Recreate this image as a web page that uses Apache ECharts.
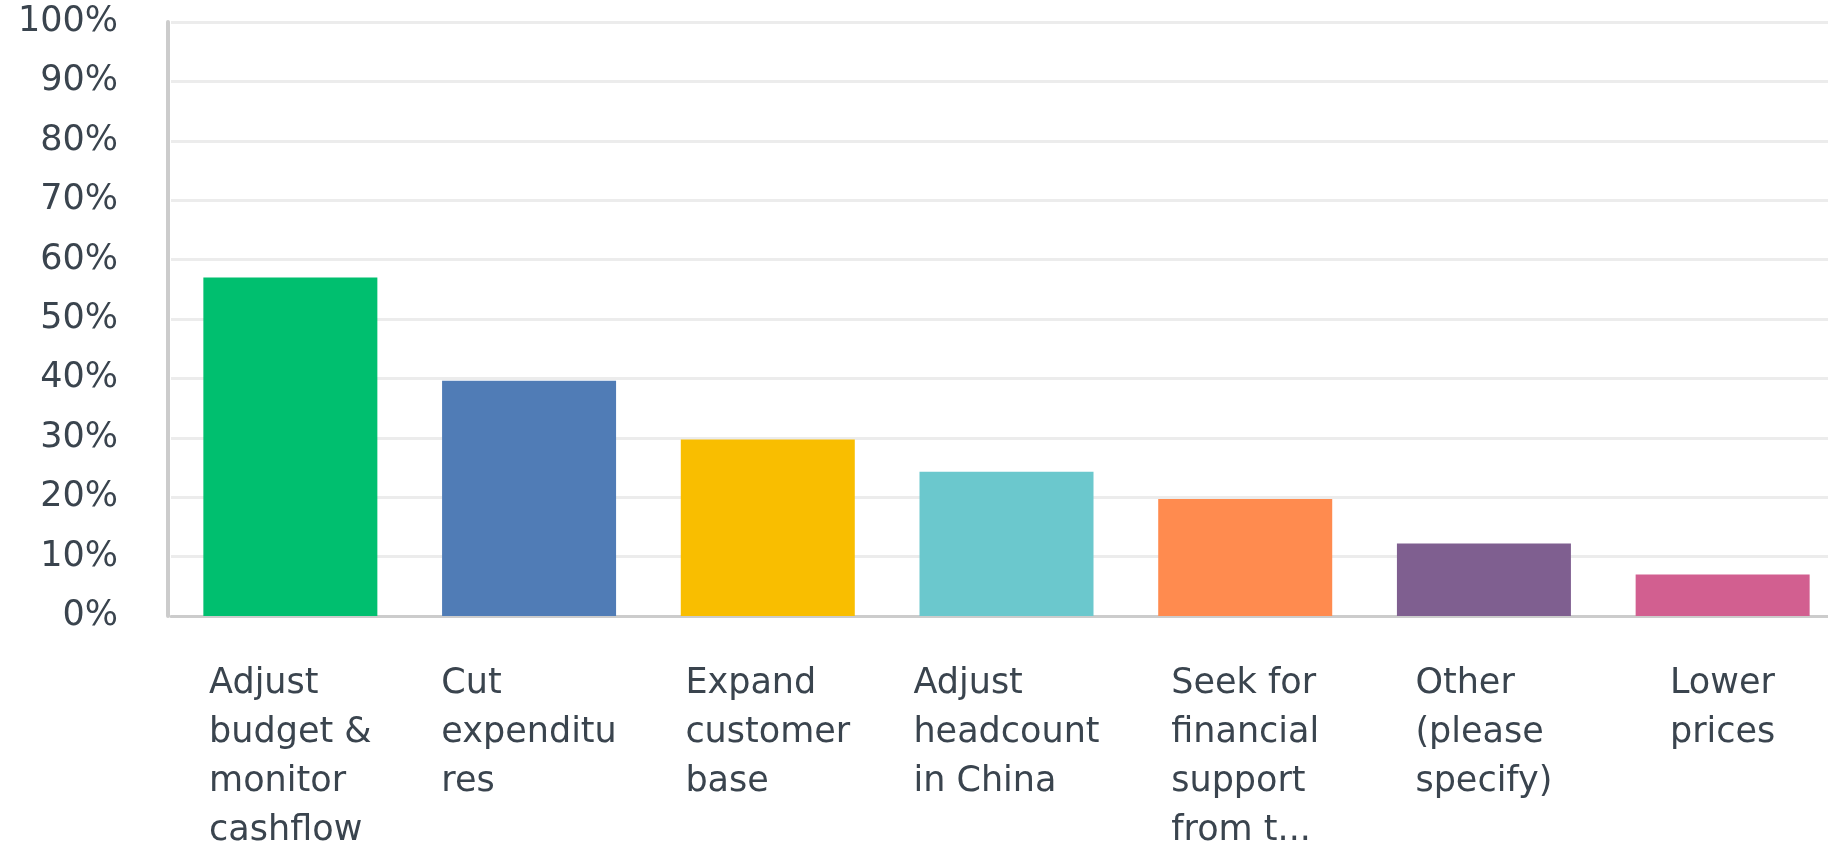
<!DOCTYPE html>
<html>
<head>
<meta charset="utf-8">
<title>Actions taken</title>
<script src="https://cdn.jsdelivr.net/npm/echarts@6/dist/echarts.min.js"></script>
<style>
  html, body { margin: 0; padding: 0; background: #ffffff; overflow: hidden; }
  #chart { width: 1828px; height: 845px; }
</style>
</head>
<body>
<div id="chart"></div>
<script>
// Answer choices, wrapped as they appear under the bars
const categories = [
  'Adjust\nbudget &\nmonitor\ncashflow',
  'Cut\nexpenditu\nres',
  'Expand\ncustomer\nbase',
  'Adjust\nheadcount\nin China',
  'Seek for\nfinancial\nsupport\nfrom t...',
  'Other\n(please\nspecify)',
  'Lower\nprices'
];

// Share of respondents (%)
const values = [57.0, 39.6, 29.7, 24.3, 19.7, 12.2, 7.0];

// One colour per answer choice
const barColors = ['#00BF6F', '#507CB6', '#F9BE00', '#6BC8CD', '#FF8B4F', '#7F5F90', '#D25F90'];

// Value axis ticks
const yMin = 0;
const yMax = 100;
const yStep = 10;

const textColor = '#3a444e';
const fontFamily = '"DejaVu Sans", Verdana, sans-serif';
const fontSize = 35;

const chart = echarts.init(document.getElementById('chart'), null, { renderer: 'canvas' });

chart.setOption({
  animation: false,
  backgroundColor: '#ffffff',
  grid: {
    left: 171,
    right: -14,
    top: 22,
    bottom: 229,
    containLabel: false,
    outerBoundsMode: 'none'
  },
  xAxis: {
    type: 'category',
    data: categories,
    axisLine: { show: true, lineStyle: { color: '#cccccc', width: 3 } },
    axisTick: { show: false },
    splitLine: { show: false },
    axisLabel: {
      interval: 0,
      margin: 43,
      color: textColor,
      fontFamily: fontFamily,
      fontSize: fontSize,
      lineHeight: 49,
      // each line left-aligned inside a block centred under its bar
      formatter: function (v) {
        return v.split('\n').map(function (s) { return '{l|' + s + '}'; }).join('\n');
      },
      rich: {
        l: {
          align: 'left',
          color: textColor,
          fontFamily: fontFamily,
          fontSize: fontSize,
          lineHeight: 49
        }
      }
    }
  },
  yAxis: {
    type: 'value',
    min: yMin,
    max: yMax,
    interval: yStep,
    offset: 3,
    axisLine: { show: true, lineStyle: { color: '#cccccc', width: 4 } },
    axisTick: { show: false },
    splitLine: { show: true, lineStyle: { color: '#ececec', width: 3 } },
    axisLabel: {
      margin: 50,
      padding: [18, 0, 0, 0],
      color: textColor,
      fontFamily: fontFamily,
      fontSize: fontSize,
      formatter: '{value}%'
    }
  },
  series: [{
    type: 'bar',
    barWidth: 174,
    data: values.map(function (v, i) {
      return { value: v, itemStyle: { color: barColors[i] } };
    }),
    label: { show: false }
  }]
});
</script>
</body>
</html>
